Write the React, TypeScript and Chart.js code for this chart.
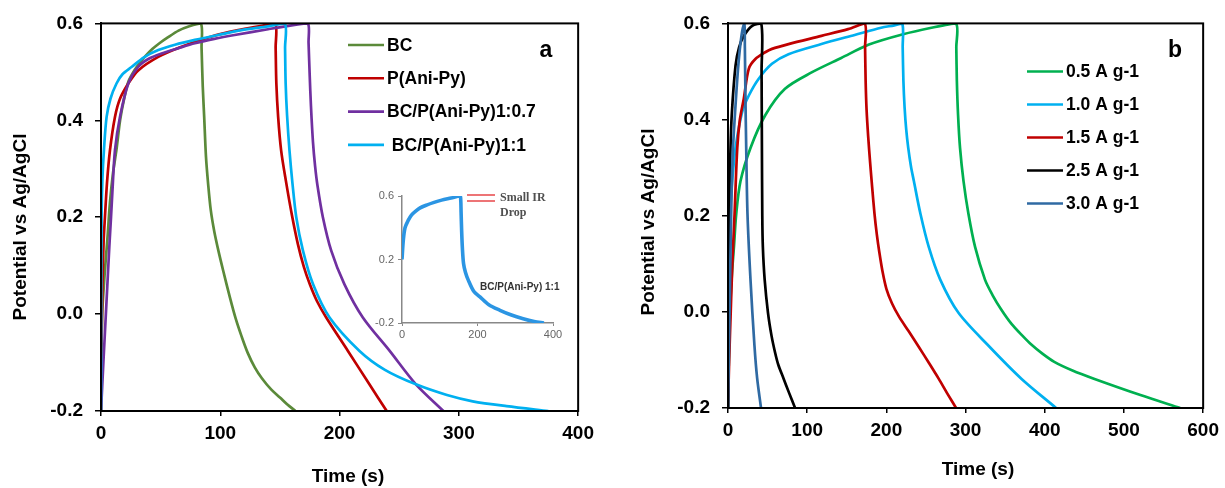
import React, { useEffect, useRef } from "react";
import { Chart, registerables } from "chart.js";
Chart.register(...registerables);

const SANS = "'Liberation Sans', Arial, Helvetica, sans-serif";
const SERIF = "'Liberation Serif', 'Times New Roman', serif";

// ---------- Panel a data ----------
const A_LABELS = ["BC", "P(Ani-Py)", "BC/P(Ani-Py)1:0.7", " BC/P(Ani-Py)1:1"];
const A_COLORS = ["#5B8A3A", "#C00000", "#7030A0", "#00B0F0"];

const BC_T = [0, 0.4, 1, 3, 5.5, 7.5, 10, 13, 16, 19, 23, 28.5, 33, 37, 43, 49, 56, 65, 74, 83.7, 84.3, 85.3, 86.5, 88, 89.8, 92, 95, 98.5, 102.4, 108, 113, 118, 123, 128.9, 135, 142.8, 150, 156, 163];
const BC_V = [-0.2, -0.1, 0.0, 0.08, 0.16, 0.23, 0.29, 0.34, 0.4, 0.44, 0.48, 0.505, 0.52, 0.532, 0.547, 0.559, 0.571, 0.585, 0.594, 0.6, 0.55, 0.47, 0.407, 0.325, 0.269, 0.215, 0.17, 0.13, 0.09, 0.035, -0.01, -0.047, -0.08, -0.11, -0.133, -0.156, -0.172, -0.186, -0.2];

const PAP_T = [0, 0.5, 1.2, 2.2, 3.3, 5, 7.5, 11.7, 16, 22.9, 31.2, 48, 67.5, 92.6, 115, 135, 146, 146.4, 147, 148.5, 151, 155, 160, 165, 170, 175, 181, 188.8, 207, 225, 239.5];
const PAP_V = [-0.2, -0.05, 0.06, 0.15, 0.2, 0.27, 0.338, 0.407, 0.445, 0.476, 0.503, 0.531, 0.552, 0.573, 0.586, 0.595, 0.6, 0.55, 0.476, 0.407, 0.338, 0.275, 0.205, 0.145, 0.098, 0.062, 0.027, -0.007, -0.076, -0.145, -0.2];

const B07_T = [0, 2, 4.5, 7, 8.4, 9.5, 11.7, 15.9, 22.9, 31, 40, 50.8, 65, 78.7, 95, 112, 140, 165, 173.5, 174, 175, 176, 177.7, 179.5, 181.5, 186, 193, 204, 219.5, 242, 264, 287];
const B07_V = [-0.2, -0.1, 0.02, 0.14, 0.2, 0.25, 0.338, 0.407, 0.476, 0.51, 0.527, 0.538, 0.549, 0.559, 0.568, 0.576, 0.588, 0.598, 0.6, 0.56, 0.49, 0.43, 0.355, 0.305, 0.265, 0.2, 0.131, 0.062, -0.007, -0.076, -0.145, -0.2];

const B11_T = [0, 0.2, 0.5, 1.2, 2.5, 4.7, 8, 13, 18, 25.6, 36, 48, 62, 78.7, 98, 117.7, 140, 154, 154.3, 154.8, 156, 158, 160.5, 163.7, 169.3, 177.7, 191.6, 216.7, 238, 264, 290, 311.6, 340, 375];
const B11_V = [-0.2, 0.0, 0.2, 0.28, 0.34, 0.407, 0.445, 0.476, 0.495, 0.51, 0.53, 0.545, 0.556, 0.566, 0.576, 0.586, 0.594, 0.6, 0.55, 0.476, 0.41, 0.338, 0.27, 0.2, 0.131, 0.062, -0.007, -0.076, -0.115, -0.145, -0.167, -0.18, -0.19, -0.2];

// ---------- Inset data ----------
const INSET_T = [0, 3.5, 8, 16.8, 25, 34, 48, 65, 85, 105, 130, 153.6, 155.5, 156.5, 158, 160, 163, 168, 175.6, 190, 206.6, 230, 259.6, 290, 321, 350, 376];
const INSET_V = [0.2, 0.322, 0.4, 0.448, 0.48, 0.5, 0.525, 0.543, 0.56, 0.574, 0.587, 0.6, 0.58, 0.5, 0.38, 0.27, 0.175, 0.12, 0.07, 0.0, -0.036, -0.085, -0.12, -0.15, -0.173, -0.19, -0.2];

// ---------- Panel b data ----------
const B_LABELS = ["0.5 A g-1", "1.0 A g-1", "1.5 A g-1", "2.5 A g-1", "3.0 A g-1"];
const B_COLORS = ["#00B050", "#00B0F0", "#C00000", "#000000", "#2F6AA3"];

const G05_T = [0, 1, 2.5, 5, 7.5, 10.4, 15.8, 28.4, 47, 72, 105.6, 143, 178, 220, 260, 287.7, 288.3, 289, 290.5, 293, 297.4, 303.6, 312, 324.5, 334, 345, 358, 372, 383, 397, 412, 435, 462, 520.8, 571];
const G05_V = [-0.2, -0.1, 0.0, 0.08, 0.135, 0.204, 0.272, 0.341, 0.409, 0.464, 0.498, 0.528, 0.556, 0.577, 0.592, 0.6, 0.55, 0.48, 0.41, 0.341, 0.272, 0.204, 0.135, 0.067, 0.035, 0.005, -0.025, -0.05, -0.068, -0.087, -0.104, -0.122, -0.139, -0.173, -0.2];

const G10_T = [0, 0.8, 2.7, 5.3, 9.5, 17.9, 26.3, 38.8, 55.5, 76.4, 118, 160, 193.4, 210, 220, 220.6, 221.5, 223, 225, 227.6, 231, 234.7, 243, 253.5, 268, 291, 328.7, 370.4, 414.3];
const G10_V = [-0.2, 0.0, 0.204, 0.272, 0.341, 0.416, 0.45, 0.485, 0.516, 0.536, 0.557, 0.576, 0.591, 0.596, 0.6, 0.55, 0.48, 0.425, 0.38, 0.341, 0.303, 0.272, 0.204, 0.135, 0.067, -0.002, -0.07, -0.139, -0.2];

const G15_T = [0, 1.5, 3.4, 5.5, 8.3, 11.7, 15, 20, 26.3, 34.6, 47, 55.5, 76.4, 118, 151.6, 172.5, 173.1, 173.8, 175, 177, 179.5, 182, 185, 188, 191, 195, 200, 207, 216, 228, 241, 254, 266, 277, 288];
const G15_V = [-0.2, -0.1, -0.002, 0.1, 0.204, 0.341, 0.4, 0.444, 0.506, 0.526, 0.54, 0.547, 0.557, 0.574, 0.588, 0.6, 0.55, 0.48, 0.42, 0.365, 0.31, 0.26, 0.204, 0.16, 0.125, 0.085, 0.048, 0.018, -0.01, -0.04, -0.073, -0.107, -0.139, -0.17, -0.2];

const G25_T = [0, 0.5, 1.3, 3, 4.7, 9.5, 14, 20, 30.5, 42, 42.4, 42.8, 43.3, 44, 46.3, 50.5, 55, 59.5, 63.5, 70, 77, 84.7];
const G25_V = [-0.2, 0.0, 0.204, 0.33, 0.409, 0.512, 0.55, 0.574, 0.595, 0.6, 0.5, 0.35, 0.2, 0.136, 0.067, -0.002, -0.05, -0.085, -0.11, -0.138, -0.168, -0.2];

const G30_T = [0, 1, 2, 4, 6, 8.7, 13, 17, 20.6, 21.3, 22, 23, 24.6, 28.4, 33.4, 36.8, 41.7];
const G30_V = [-0.2, -0.1, 0.0, 0.204, 0.33, 0.409, 0.512, 0.574, 0.6, 0.55, 0.45, 0.34, 0.204, 0.067, -0.07, -0.138, -0.2];

// ---------- Axis ticks ----------
const Y_MIN = -0.2;
const Y_MAX = 0.6;
const Y_STEP = 0.2;
const A_X_MAX = 400;
const B_X_MAX = 600;
const X_STEP = 100;
const INSET_X_MAX = 400;
const INSET_X_STEP = 200;
const INSET_Y_STEP = 0.4;

const X_TITLE = "Time (s)";
const Y_TITLE = "Potential vs Ag/AgCl";

const toPts = (t: number[], v: number[]) => t.map((x, i) => ({ x, y: v[i] }));
const fmt1 = (v: any) => {
  const n = Number(v);
  return Math.abs(n) < 1e-9 ? "0.0" : n.toFixed(1);
};

type Deco = {
  letter: string;
  letterX: number;
  letterY: number;
  legendX0: number;
  legendX1: number;
  legendTextX: number;
  legendY0: number;
  legendDy: number;
  xTitleX: number;
  xTitleY: number;
  yTitleX: number;
  yTitleY: number;
};

function decoPlugin(d: Deco) {
  return {
    id: "deco",
    afterDraw(chart: any) {
      const ctx = chart.ctx;
      const a = chart.chartArea;
      ctx.save();
      ctx.strokeStyle = "#000";
      ctx.lineWidth = 2;
      ctx.strokeRect(a.left, a.top, a.right - a.left, a.bottom - a.top);
      chart.data.datasets.forEach((ds: any, i: number) => {
        const y = d.legendY0 + i * d.legendDy;
        ctx.beginPath();
        ctx.strokeStyle = ds.borderColor;
        ctx.lineWidth = 2.6;
        ctx.moveTo(d.legendX0, y);
        ctx.lineTo(d.legendX1, y);
        ctx.stroke();
        ctx.fillStyle = "#000";
        ctx.font = `bold 17.5px ${SANS}`;
        ctx.textAlign = "left";
        ctx.textBaseline = "middle";
        ctx.fillText(ds.label, d.legendTextX, y + 1);
      });
      ctx.font = `bold 23px ${SANS}`;
      ctx.textAlign = "center";
      ctx.textBaseline = "alphabetic";
      ctx.fillText(d.letter, d.letterX, d.letterY);
      ctx.font = `bold 19px ${SANS}`;
      ctx.textBaseline = "middle";
      ctx.fillText(X_TITLE, d.xTitleX, d.xTitleY);
      ctx.translate(d.yTitleX, d.yTitleY);
      ctx.rotate(-Math.PI / 2);
      ctx.fillText(Y_TITLE, 0, 0);
      ctx.restore();
    },
  };
}

function mainConfig(
  labels: string[],
  colors: string[],
  series: { t: number[]; v: number[] }[],
  xMax: number,
  padTop: number,
  padRight: number,
  xAxisH: number,
  deco: Deco
): any {
  const n = series.length;
  const tickFont = { family: SANS, size: 19, weight: "bold" as const };
  return {
    type: "scatter",
    data: {
      datasets: series.map((s, i) => ({
        label: labels[i],
        data: toPts(s.t, s.v),
        borderColor: colors[i],
        backgroundColor: colors[i],
        showLine: true,
        pointRadius: 0,
        borderWidth: 2.7,
        tension: 0.3,
        fill: false,
        order: n - i,
      })),
    },
    options: {
      responsive: false,
      animation: false,
      events: [],
      layout: { padding: { left: 0, top: padTop, right: padRight, bottom: 0 } },
      plugins: { legend: { display: false }, tooltip: { enabled: false } },
      scales: {
        x: {
          type: "linear",
          min: 0,
          max: xMax,
          ticks: { stepSize: X_STEP, font: tickFont, color: "#000", padding: 6, maxRotation: 0, autoSkip: false },
          grid: { drawOnChartArea: false, drawTicks: true, tickLength: 5, color: "#000", lineWidth: 1.5 },
          border: { display: true, color: "#000", width: 2 },
          afterFit: (s: any) => {
            s.height = xAxisH;
          },
        },
        y: {
          type: "linear",
          min: Y_MIN,
          max: Y_MAX,
          ticks: { stepSize: Y_STEP, font: tickFont, color: "#000", padding: 12, callback: fmt1, autoSkip: false },
          grid: { drawOnChartArea: false, drawTicks: true, tickLength: 6, color: "#000", lineWidth: 1.5 },
          border: { display: true, color: "#000", width: 2 },
          afterFit: (s: any) => {
            s.width = 101;
          },
        },
      },
    },
    plugins: [decoPlugin(deco)],
  };
}

const insetDeco = {
  id: "insetDeco",
  afterDraw(chart: any) {
    const ctx = chart.ctx;
    ctx.save();
    ctx.strokeStyle = "#E8474A";
    ctx.lineWidth = 1.6;
    ctx.beginPath();
    ctx.moveTo(107, 15);
    ctx.lineTo(135, 15);
    ctx.moveTo(107, 21);
    ctx.lineTo(135, 21);
    ctx.stroke();
    ctx.fillStyle = "#505050";
    ctx.font = `bold 12px ${SERIF}`;
    ctx.textAlign = "left";
    ctx.textBaseline = "middle";
    ctx.fillText("Small IR", 140, 18);
    ctx.fillText("Drop", 140, 33);
    ctx.fillStyle = "#333";
    ctx.font = `bold 10px ${SANS}`;
    ctx.fillText("BC/P(Ani-Py) 1:1", 120, 107);
    ctx.restore();
  },
};

function insetConfig(): any {
  const f = { family: SANS, size: 11 };
  return {
    type: "scatter",
    data: {
      datasets: [
        {
          label: "BC/P(Ani-Py) 1:1",
          data: toPts(INSET_T, INSET_V),
          borderColor: "#2B95E3",
          backgroundColor: "#2B95E3",
          showLine: true,
          pointRadius: 0,
          borderWidth: 3.6,
          tension: 0.3,
        },
      ],
    },
    options: {
      responsive: false,
      animation: false,
      events: [],
      layout: { padding: { left: 0, top: 16, right: 27, bottom: 0 } },
      plugins: { legend: { display: false }, tooltip: { enabled: false } },
      scales: {
        x: {
          type: "linear",
          min: 0,
          max: INSET_X_MAX,
          ticks: { stepSize: INSET_X_STEP, font: f, color: "#666", padding: 2, maxRotation: 0 },
          grid: { drawOnChartArea: false, drawTicks: true, tickLength: 3, color: "#888", lineWidth: 1 },
          border: { display: true, color: "#888", width: 1.5 },
          afterFit: (s: any) => {
            s.height = 27;
          },
        },
        y: {
          type: "linear",
          min: Y_MIN,
          max: Y_MAX,
          ticks: { stepSize: INSET_Y_STEP, font: f, color: "#666", padding: 4, callback: fmt1 },
          grid: { drawOnChartArea: false, drawTicks: true, tickLength: 4, color: "#888", lineWidth: 1 },
          border: { display: true, color: "#888", width: 1.5 },
          afterFit: (s: any) => {
            s.width = 42;
          },
        },
      },
    },
    plugins: [insetDeco],
  };
}

export default function App() {
  const refA = useRef<HTMLCanvasElement>(null);
  const refB = useRef<HTMLCanvasElement>(null);
  const refI = useRef<HTMLCanvasElement>(null);

  useEffect(() => {
    const charts: Chart[] = [];
    if (refA.current) {
      charts.push(
        new Chart(
          refA.current,
          mainConfig(
            A_LABELS,
            A_COLORS,
            [
              { t: BC_T, v: BC_V },
              { t: PAP_T, v: PAP_V },
              { t: B07_T, v: B07_V },
              { t: B11_T, v: B11_V },
            ],
            A_X_MAX,
            22,
            21,
            77,
            {
              letter: "a",
              letterX: 546,
              letterY: 57,
              legendX0: 348,
              legendX1: 384,
              legendTextX: 387,
              legendY0: 45,
              legendDy: 33.3,
              xTitleX: 348,
              xTitleY: 477,
              yTitleX: 21,
              yTitleY: 227,
            }
          )
        )
      );
    }
    if (refB.current) {
      charts.push(
        new Chart(
          refB.current,
          mainConfig(
            B_LABELS,
            B_COLORS,
            [
              { t: G05_T, v: G05_V },
              { t: G10_T, v: G10_V },
              { t: G15_T, v: G15_V },
              { t: G25_T, v: G25_V },
              { t: G30_T, v: G30_V },
            ],
            B_X_MAX,
            19,
            18,
            80,
            {
              letter: "b",
              letterX: 548,
              letterY: 57,
              legendX0: 400,
              legendX1: 436,
              legendTextX: 439,
              legendY0: 71.5,
              legendDy: 33,
              xTitleX: 351,
              xTitleY: 470,
              yTitleX: 22,
              yTitleY: 222,
            }
          )
        )
      );
    }
    if (refI.current) {
      charts.push(new Chart(refI.current, insetConfig()));
    }
    return () => charts.forEach((c) => c.destroy());
  }, []);

  return (
    <div style={{ position: "absolute", left: 0, top: 0, width: 1225, height: 488, background: "#fff", overflow: "hidden" }}>
      <canvas ref={refA} width={600} height={488} style={{ position: "absolute", left: 0, top: 0 }} />
      <canvas ref={refB} width={598} height={488} style={{ position: "absolute", left: 627, top: 0 }} />
      <canvas ref={refI} width={220} height={170} style={{ position: "absolute", left: 360, top: 180 }} />
    </div>
  );
}
